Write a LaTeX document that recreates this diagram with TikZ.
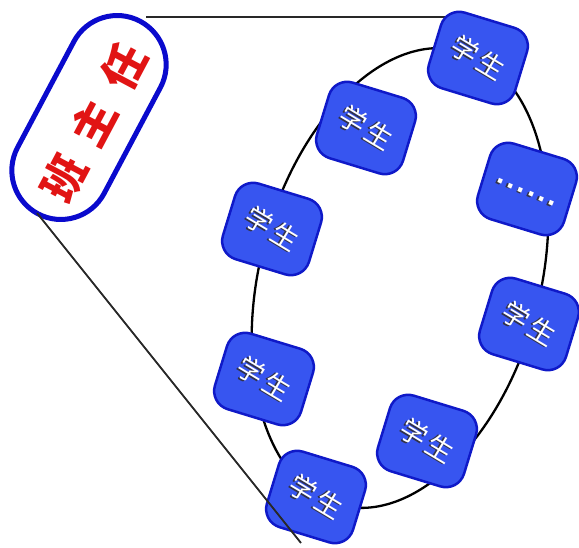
\documentclass[tikz,border=0pt]{standalone}
\usepackage{fontspec}
\newfontfamily\cjk{Noto Sans CJK SC}
\newfontfamily\deja{DejaVu Sans}
\definecolor{boxblue}{RGB}{55,85,240}
\definecolor{boxedge}{RGB}{15,25,200}
\definecolor{capblue}{RGB}{10,10,205}
\definecolor{bossred}{RGB}{225,20,20}
\definecolor{shadowgray}{RGB}{50,50,70}
\definecolor{linegray}{RGB}{40,40,40}
\newcommand{\stuword}{学\hspace{3pt}生}
\newcommand{\stutxt}{\rotatebox{-14}{\rlap{\raisebox{-1.6pt}{\kern-1.6pt\textcolor{shadowgray}{\stuword}}}\stuword}}
\newcommand{\dotword}{.\kern2pt.\kern2pt.\kern2pt.\kern2pt.\kern2pt.}
\newcommand{\dotstxt}{\raisebox{-13pt}{\rotatebox{-6}{\rlap{\raisebox{-1.2pt}{\kern-1.2pt\textcolor{shadowgray}{\dotword}}}\dotword}}}
\tikzset{
  stubox/.style={draw=boxedge, line width=2.5pt, fill=boxblue, rounded corners=19pt,
    minimum width=90pt, minimum height=79pt, inner sep=0pt, rotate=-17,
    text=white, font=\cjk\fontsize{27}{27}\selectfont},
  dotbox/.style={stubox, font=\deja\bfseries\fontsize{24}{24}\selectfont},
  bossbox/.style={draw=capblue, line width=5pt, fill=white, rounded corners=49pt,
    minimum width=218pt, minimum height=98pt, inner sep=0pt, rotate=62},
  bosstext/.style={text=bossred, rotate=62, inner sep=0pt,
    font=\cjk\bfseries\fontsize{44}{44}\selectfont},
  ring/.style={draw=black, line width=2.3pt},
  callout/.style={draw=linegray, line width=1.8pt}
}
\begin{document}
\begin{tikzpicture}[x=1pt,y=-1pt]
\useasboundingbox (0,0) rectangle (579,548);
% capsule
\node[bossbox] (boss) at (89,117.5) {};
\node[bosstext] (bossname) at (94,123) {班\hspace{19pt}主\hspace{19pt}任};
% ring
\draw[ring, rotate around={-15:(400,278)}] (400,278) ellipse [x radius=140, y radius=235];
% tangent coordinates
\coordinate (capT) at (146,17);
\coordinate (capB) at (37,213);
\coordinate (lowEnd) at (301,543);
% upper callout line (under the box)
\coordinate (s1edge) at (478,17);
\draw[callout] (capT) -- (s1edge);
% students
\node[stubox] (s1) at (478,58) {\stutxt};
\node[stubox] (s2) at (366,128) {\stutxt};
\node[stubox] (s3) at (272,229) {\stutxt};
\node[dotbox] (s4) at (527,189) {\dotstxt};
\node[stubox] (s5) at (529,324) {\stutxt};
\node[stubox] (s6) at (264,379) {\stutxt};
\node[stubox] (s7) at (427,441) {\stutxt};
\node[stubox] (s8) at (316,497) {\stutxt};
% lower callout line (over the box)
\draw[callout] (capB) -- (lowEnd);
\end{tikzpicture}
\end{document}
